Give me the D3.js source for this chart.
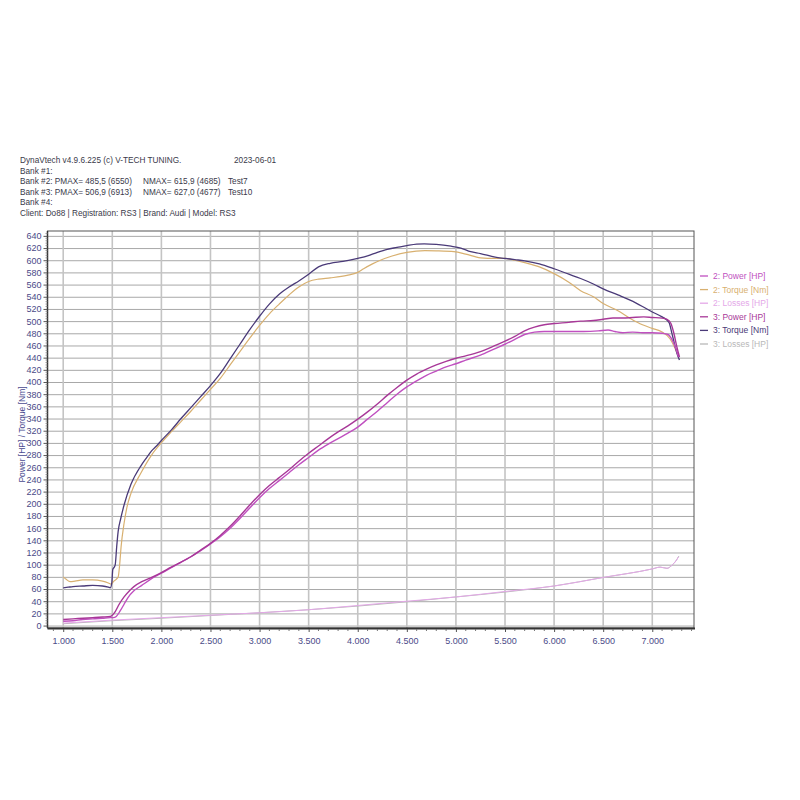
<!DOCTYPE html>
<html><head><meta charset="utf-8">
<script src="https://cdn.jsdelivr.net/npm/d3@7"></script>
<style>
html,body{margin:0;padding:0;background:#fff;}
svg{display:block;font-family:"Liberation Sans",Arial,sans-serif;}
</style></head>
<body>
<svg id="c" width="800" height="800"></svg>
<script>
// ---------- DATA ----------
const headerLines = [
  ["DynaVtech v4.9.6.225 (c) V-TECH TUNING.", "", "", "2023-06-01"],
  ["Bank #1:", "", "", ""],
  ["Bank #2: PMAX= 485,5 (6550)", "NMAX= 615,9 (4685)", "Test7", ""],
  ["Bank #3: PMAX= 506,9 (6913)", "NMAX= 627,0 (4677)", "Test10", ""],
  ["Bank #4:", "", "", ""],
  ["Client: Do88 | Registration: RS3 | Brand: Audi | Model: RS3", "", "", ""]
];
const xTicks = [1000,1500,2000,2500,3000,3500,4000,4500,5000,5500,6000,6500,7000];
const yTicks = d3.range(0, 641, 20);
const legendLabels = ["2: Power [HP]","2: Torque [Nm]","2: Losses [HP]","3: Power [HP]","3: Torque [Nm]","3: Losses [HP]"];

const power2 = [[1000,7],[1100,8],[1200,10],[1300,11],[1400,12],[1480,13],[1510,13],[1540,15],[1580,24],[1620,35],[1660,46],[1720,57],[1800,66],[1900,77],[2000,86],[2100,95],[2200,104],[2300,113],[2400,123],[2500,134],[2600,146],[2700,160],[2800,176],[2900,193],[3000,210],[3100,225],[3200,238],[3300,251],[3400,264],[3500,276],[3600,288],[3700,298],[3800,307],[3900,316],[4000,326],[4100,339],[4200,352],[4300,366],[4400,380],[4500,392],[4600,402],[4700,411],[4800,418],[4900,425],[5000,430],[5100,436],[5250,444],[5400,455],[5500,462],[5600,470],[5700,478],[5800,482],[5900,483],[6000,483],[6150,483],[6300,483],[6450,484],[6550,485.5],[6620,483],[6700,481],[6800,482],[6900,481],[7000,481],[7100,480],[7160,478],[7200,470],[7240,455],[7268,441]];
const torque2 = [[1000,80],[1030,76],[1070,72],[1120,73],[1200,75],[1300,75],[1400,73],[1460,70],[1490,68],[1510,72],[1540,76],[1560,80],[1575,100],[1590,130],[1620,168],[1650,195],[1690,217],[1790,250],[1900,280],[2010,302],[2100,318],[2200,335],[2300,352],[2400,370],[2500,388],[2600,406],[2700,428],[2800,450],[2900,472],[3000,493],[3100,512],[3200,528],[3300,543],[3400,556],[3500,565],[3600,569],[3720,571],[3890,575],[4000,580],[4060,586],[4150,594],[4230,600],[4350,607],[4500,613],[4685,615.9],[4800,615.5],[4980,614],[5100,610],[5250,604],[5400,603],[5500,603],[5600,600],[5700,596],[5850,589],[6000,578],[6150,564],[6270,550],[6400,540],[6500,529],[6650,517],[6780,504],[6900,494],[7000,488],[7100,482],[7180,471],[7230,456],[7268,441]];
const losses2 = [[1000,4],[1500,9],[2000,13],[2500,17],[3000,21],[3500,26],[4000,33],[4500,40],[5000,47],[5500,56],[6000,65],[6500,79],[7000,93],[7080,96],[7150,94],[7200,99],[7240,106],[7268,113]];
const power3 = [[1000,10],[1100,11],[1200,12],[1300,13],[1400,14],[1480,15],[1500,17],[1530,23],[1570,35],[1620,47],[1680,58],[1720,64],[1800,72],[1900,79],[2000,87],[2100,96],[2200,104],[2300,113],[2400,124],[2500,135],[2600,148],[2700,163],[2800,180],[2900,198],[3000,215],[3100,230],[3200,243],[3300,256],[3400,270],[3500,283],[3600,295],[3700,307],[3800,318],[3900,328],[4000,339],[4100,351],[4200,364],[4300,378],[4400,391],[4500,403],[4600,413],[4700,421],[4800,428],[4900,434],[5000,439],[5100,443],[5250,450],[5400,460],[5500,467],[5600,475],[5700,484],[5800,490],[5900,494],[6000,496],[6150,498],[6270,500],[6400,501],[6500,503],[6600,505],[6700,505],[6800,506],[6913,506.9],[7000,506],[7100,505],[7150,503],[7190,496],[7220,480],[7250,458],[7277,441]];
const torque3 = [[1000,62],[1050,63],[1100,64],[1200,65],[1300,66],[1400,65],[1460,63],[1480,62],[1495,70],[1505,92],[1520,96],[1530,100],[1545,130],[1560,155],[1585,175],[1620,198],[1690,232],[1790,262],[1850,276],[1900,287],[1950,295],[2000,304],[2100,321],[2200,340],[2300,358],[2400,376],[2500,394],[2600,414],[2700,438],[2800,462],[2900,486],[3000,508],[3100,528],[3200,544],[3300,556],[3400,566],[3500,577],[3600,589],[3720,595],[3850,598],[4000,603],[4100,607],[4200,613],[4300,618],[4400,621],[4500,624],[4600,626.5],[4677,627],[4800,626],[4950,623],[5050,620],[5150,614],[5250,611],[5400,605],[5500,603],[5600,601],[5700,599],[5850,594],[6000,586],[6150,577],[6270,570],[6400,561],[6500,553],[6650,543],[6780,534],[6900,524],[7000,515],[7100,507],[7170,498],[7200,480],[7230,460],[7260,443],[7277,436]];
const losses3 = [[1000,3],[1500,8],[2000,12],[2500,16.5],[3000,21],[3500,26],[4000,32],[4500,39],[5000,47],[5500,55],[6000,65],[6500,79],[7000,93],[7080,96],[7150,94],[7200,99],[7240,106],[7270,114]];

const series = [power2, torque2, losses2, power3, torque3, losses3];
const colors = ["#c050c0","#d8b070","#e4a8e8","#a83898","#4a3a78","#b8b8b8"];
const widths = [1.4,1.2,1.0,1.4,1.3,1.0];

// ---------- CHART ----------
const svg = d3.select("#c");
const L=47.5, R=694, T=231, B=628;
const x = d3.scaleLinear().domain([840,7425]).range([L,R]);
const y = d3.scaleLinear().domain([-4,648]).range([B,T]);

// header
const hdr = svg.append("g").attr("font-size",9).attr("fill","#3a3a4a");
const colX = [20,143,228,234];
headerLines.forEach((row,i)=>{
  row.forEach((t,j)=>{
    if(!t) return;
    const el = hdr.append("text").attr("x",colX[j]).attr("y",163+i*10.6).text(t);
    const w = el.node().getComputedTextLength();
    el.attr("textLength", w*0.915).attr("lengthAdjust","spacingAndGlyphs");
  });
});

// grid
const g = svg.append("g");
g.selectAll("line.h").data(yTicks).join("line")
  .attr("x1",L).attr("x2",R).attr("y1",d=>y(d)+0.5).attr("y2",d=>y(d)+0.5)
  .attr("stroke","#a8a8a8").attr("stroke-width",1);
g.selectAll("line.v").data(xTicks).join("line")
  .attr("y1",T).attr("y2",B).attr("x1",d=>x(d)).attr("x2",d=>x(d))
  .attr("stroke","#c4c4c4").attr("stroke-width",1.6);

// curves
svg.append("clipPath").attr("id","pc").append("rect").attr("x",L).attr("y",T).attr("width",R-L).attr("height",B-T);
const line = d3.line().x(d=>x(d[0])).y(d=>y(d[1])).curve(d3.curveMonotoneX);
const order = [5,2,1,4,0,3];
order.forEach(i=>{
  svg.append("path").attr("d",line(series[i])).attr("fill","none")
    .attr("stroke",colors[i]).attr("stroke-width",widths[i]).attr("clip-path","url(#pc)");
});

// frame
svg.append("rect").attr("x",L).attr("y",T).attr("width",R-L).attr("height",B-T)
  .attr("fill","none").attr("stroke","#555").attr("stroke-width",1);
svg.append("line").attr("x1",L).attr("x2",R+1).attr("y1",B+0.5).attr("y2",B+0.5).attr("stroke","#333").attr("stroke-width",2);
svg.append("line").attr("x1",L).attr("x2",L).attr("y1",T).attr("y2",B).attr("stroke","#333").attr("stroke-width",1.5);

// x axis
const xa = svg.append("g").attr("transform",`translate(0,${B+1})`)
  .call(d3.axisBottom(x).tickValues(xTicks).tickSize(3).tickPadding(6)
    .tickFormat(d=>d3.format(".3f")(d/1000)));
xa.select(".domain").remove();
xa.selectAll("text").attr("font-size",9).attr("fill","#4a4a88").attr("font-family","Liberation Sans, Arial");
xa.selectAll("line").attr("stroke","#555");
svg.append("g").selectAll("line").data(d3.range(900,7425,100).filter(v=>v%500!==0)).join("line")
  .attr("x1",d=>x(d)).attr("x2",d=>x(d)).attr("y1",B+1).attr("y2",B+3).attr("stroke","#777");

// y axis
const ya = svg.append("g").attr("transform",`translate(${L},0)`)
  .call(d3.axisLeft(y).tickValues(yTicks).tickSize(4).tickPadding(2));
ya.select(".domain").remove();
ya.selectAll("text").attr("font-size",9).attr("fill","#4a4a88").attr("font-family","Liberation Sans, Arial");
ya.selectAll("line").attr("stroke","#555");
svg.append("g").selectAll("line").data(d3.range(0,645,4).filter(v=>v%20!==0)).join("line")
  .attr("x1",L-2).attr("x2",L).attr("y1",d=>y(d)).attr("y2",d=>y(d)).attr("stroke","#888").attr("stroke-width",0.8);

svg.append("text").attr("transform",`translate(25,${(T+B)/2+5}) rotate(-90)`)
  .attr("text-anchor","middle").attr("font-size",8.5).attr("fill","#4a4a90")
  .text("Power [HP] / Torque [Nm]");

// legend
const lg = svg.append("g");
legendLabels.forEach((t,i)=>{
  const yy = 276 + i*13.6;
  lg.append("line").attr("x1",700).attr("x2",708).attr("y1",yy).attr("y2",yy).attr("stroke",colors[i]).attr("stroke-width",1.3);
  lg.append("text").attr("x",713).attr("y",yy+3).attr("font-size",8.5).attr("fill",colors[i]).text(t);
});
</script>
</body></html>
